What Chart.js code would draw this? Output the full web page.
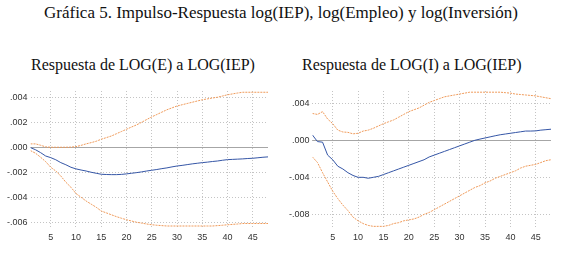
<!DOCTYPE html>
<html>
<head>
<meta charset="utf-8">
<title>Gráfica 5</title>
<style>
    body { margin: 0; background: #fff; width: 562px; height: 258px; overflow: hidden; position: relative; }
    .title { position: absolute; font-family: 'Liberation Serif', serif; color: #111; white-space: nowrap; }
    #main { left: 0; width: 562px; top: 3px; text-align: center; font-size: 17px; }
    #sub1 { left: 31px; top: 56px; font-size: 16px; }
    #sub2 { left: 302px; top: 56px; font-size: 16px; }
    .box { position: absolute; top: 80px; height: 167px; }
    #boxE { left: 0; width: 268px; }
    #boxI { left: 280px; width: 271px; }
</style>
<script src="https://cdn.jsdelivr.net/npm/chart.js"></script>
</head>
<body>
<div class="title" id="main">Gráfica 5. Impulso-Respuesta log(IEP), log(Empleo) y log(Inversión)</div>
<div class="title" id="sub1">Respuesta de LOG(E) a LOG(IEP)</div>
<div class="title" id="sub2">Respuesta de LOG(I) a LOG(IEP)</div>
<div class="box" id="boxE"><canvas id="chartE"></canvas></div>
<div class="box" id="boxI"><canvas id="chartI"></canvas></div>
<script>
const periods = Array.from({ length: 48 }, (_, i) => i + 1);
const xTicks = [5, 10, 15, 20, 25, 30, 35, 40, 45];

// Respuesta de LOG(E) a LOG(IEP)
const respE = [-0.00003, -0.0002, -0.00043, -0.0007, -0.00083, -0.001, -0.00123, -0.0014, -0.0016, -0.00173,
    -0.00182, -0.0019, -0.002, -0.00208, -0.00216, -0.00218, -0.00219, -0.00219, -0.00217, -0.00213,
    -0.00208, -0.00203, -0.00197, -0.0019, -0.00184, -0.00178, -0.00171, -0.00165, -0.00157, -0.0015,
    -0.00145, -0.00139, -0.00133, -0.00128, -0.00123, -0.00119, -0.00114, -0.0011, -0.00104, -0.00099,
    -0.00097, -0.00095, -0.00093, -0.0009, -0.00088, -0.00084, -0.0008, -0.00077];
const upperE = [0.00027, 0.00027, 0.00016, 0.00003, 0, 0, 0, 0, 0.00001, 0.00005,
    0.00015, 0.00027, 0.00037, 0.00048, 0.00064, 0.00077, 0.0009, 0.00108, 0.00126, 0.00144,
    0.00162, 0.00179, 0.002, 0.00222, 0.00243, 0.00262, 0.00281, 0.003, 0.00315, 0.0033,
    0.0034, 0.0035, 0.0036, 0.0037, 0.0038, 0.00387, 0.00394, 0.004, 0.0041, 0.0042,
    0.00427, 0.00434, 0.0044, 0.0044, 0.0044, 0.0044, 0.0044, 0.0044];
const lowerE = [-0.00027, -0.00048, -0.0008, -0.00115, -0.0016, -0.0019, -0.0023, -0.0028, -0.0032, -0.0037,
    -0.004, -0.0043, -0.00455, -0.0048, -0.0051, -0.00525, -0.0054, -0.00555, -0.00568, -0.0058,
    -0.0059, -0.006, -0.00607, -0.00614, -0.0062, -0.00624, -0.00627, -0.0063, -0.0063, -0.0063,
    -0.0063, -0.0063, -0.0063, -0.0063, -0.0063, -0.0063, -0.0063, -0.00627, -0.00624, -0.0062,
    -0.00617, -0.00614, -0.0061, -0.0061, -0.0061, -0.0061, -0.0061, -0.0061];
const yTicksE = [0.004, 0.002, 0, -0.002, -0.004, -0.006];

// Respuesta de LOG(I) a LOG(IEP)
const respI = [0.00058, -0.00014, -0.0002, -0.0016, -0.0021, -0.0028, -0.0031, -0.0035, -0.0038, -0.004,
    -0.004, -0.0041, -0.004, -0.0039, -0.0037, -0.0035, -0.0033, -0.0031, -0.0029, -0.0027,
    -0.0025, -0.0023, -0.0021, -0.0018, -0.0016, -0.0014, -0.0012, -0.001, -0.0008, -0.0006,
    -0.0004, -0.0002, 0, 0.00013, 0.00025, 0.00037, 0.00049, 0.0006, 0.00068, 0.00076,
    0.00084, 0.00092, 0.001, 0.001, 0.00102, 0.0011, 0.00115, 0.0012];
const upperI = [0.0029, 0.0028, 0.0031, 0.0023, 0.0018, 0.0011, 0.0009, 0.00086, 0.0007, 0.00076,
    0.001, 0.0011, 0.0013, 0.00155, 0.0018, 0.002, 0.0022, 0.0025, 0.0028, 0.0031,
    0.0033, 0.0035, 0.0038, 0.0041, 0.0043, 0.0045, 0.0047, 0.0048, 0.0049, 0.005,
    0.0051, 0.0052, 0.0052, 0.0052, 0.0052, 0.0052, 0.0052, 0.0052, 0.00515, 0.0051,
    0.005, 0.00495, 0.0049, 0.00485, 0.0048, 0.0047, 0.0046, 0.0045];
const lowerI = [-0.0018, -0.0024, -0.0035, -0.0045, -0.0055, -0.0063, -0.007, -0.0076, -0.0083, -0.0087,
    -0.009, -0.0092, -0.0093, -0.0093, -0.0093, -0.0092, -0.009, -0.0089, -0.0087, -0.0086,
    -0.0085, -0.0083, -0.008, -0.0078, -0.0075, -0.0072, -0.0069, -0.0066, -0.0063, -0.006,
    -0.0057, -0.0054, -0.0051, -0.0049, -0.0046, -0.0044, -0.0041, -0.0039, -0.0037, -0.0035,
    -0.0033, -0.003, -0.0028, -0.0027, -0.0026, -0.0024, -0.0022, -0.0021];
const yTicksI = [0.004, 0, -0.004, -0.008];

const blue = '#3556a6';
const orange = '#ef9a5a';

// zero line drawn solid over the dotted grid
const zeroLine = {
    id: 'zeroLine',
    beforeDatasetsDraw(chart) {
        const { ctx, chartArea, scales } = chart;
        const y = Math.round(scales.y.getPixelForValue(0)) + 0.5;
        ctx.save();
        ctx.strokeStyle = '#a6a6a6';
        ctx.lineWidth = 1;
        ctx.beginPath();
        ctx.moveTo(chartArea.left, y);
        ctx.lineTo(chartArea.right, y);
        ctx.stroke();
        ctx.restore();
    }
};

function fmt(v) {
    if (Math.abs(v) < 1e-9) return '.000';
    const s = Math.abs(v).toFixed(3).replace(/^0/, '');
    return (v < 0 ? '-' : '') + s;
}

function makeChart(id, resp, upper, lower, yTicks, yMin, yMax, yWidth) {
    const line = (data, color, dash) => ({
        data: data,
        borderColor: color,
        borderWidth: 1,
        borderDash: dash,
        pointRadius: 0,
        tension: 0,
        fill: false
    });
    new Chart(document.getElementById(id), {
        type: 'line',
        data: {
            labels: periods,
            datasets: [
                line(upper, orange, [2, 1]),
                line(lower, orange, [2, 1]),
                line(resp, blue, [])
            ]
        },
        options: {
            responsive: true,
            maintainAspectRatio: false,
            animation: false,
            layout: { padding: { top: 11, right: 0, left: 0, bottom: 0 } },
            plugins: { legend: { display: false }, tooltip: { enabled: false } },
            scales: {
                x: {
                    type: 'linear',
                    min: 1,
                    max: 48,
                    afterBuildTicks: s => { s.ticks = xTicks.map(v => ({ value: v })); },
                    afterFit: s => { s.height = 20; },
                    grid: { color: '#c4c4c4', drawTicks: false },
                    border: { display: false, dash: [1, 2] },
                    ticks: { padding: 5, color: '#333', font: { family: 'Liberation Sans', size: 9 }, maxRotation: 0 }
                },
                y: {
                    min: yMin,
                    max: yMax,
                    afterBuildTicks: s => { s.ticks = yTicks.map(v => ({ value: v })); },
                    afterFit: s => { s.width = yWidth; },
                    grid: { color: '#c4c4c4', drawTicks: false },
                    border: { display: false, dash: [1, 2] },
                    ticks: { padding: 3, color: '#333', font: { family: 'Liberation Sans', size: 9 }, callback: v => fmt(v) }
                }
            }
        },
        plugins: [zeroLine]
    });
}

makeChart('chartE', respE, upperE, lowerE, yTicksE, -0.00638, 0.0045, 30.5);
makeChart('chartI', respI, upperI, lowerI, yTicksI, -0.00937, 0.00533, 32.4);
</script>
</body>
</html>
